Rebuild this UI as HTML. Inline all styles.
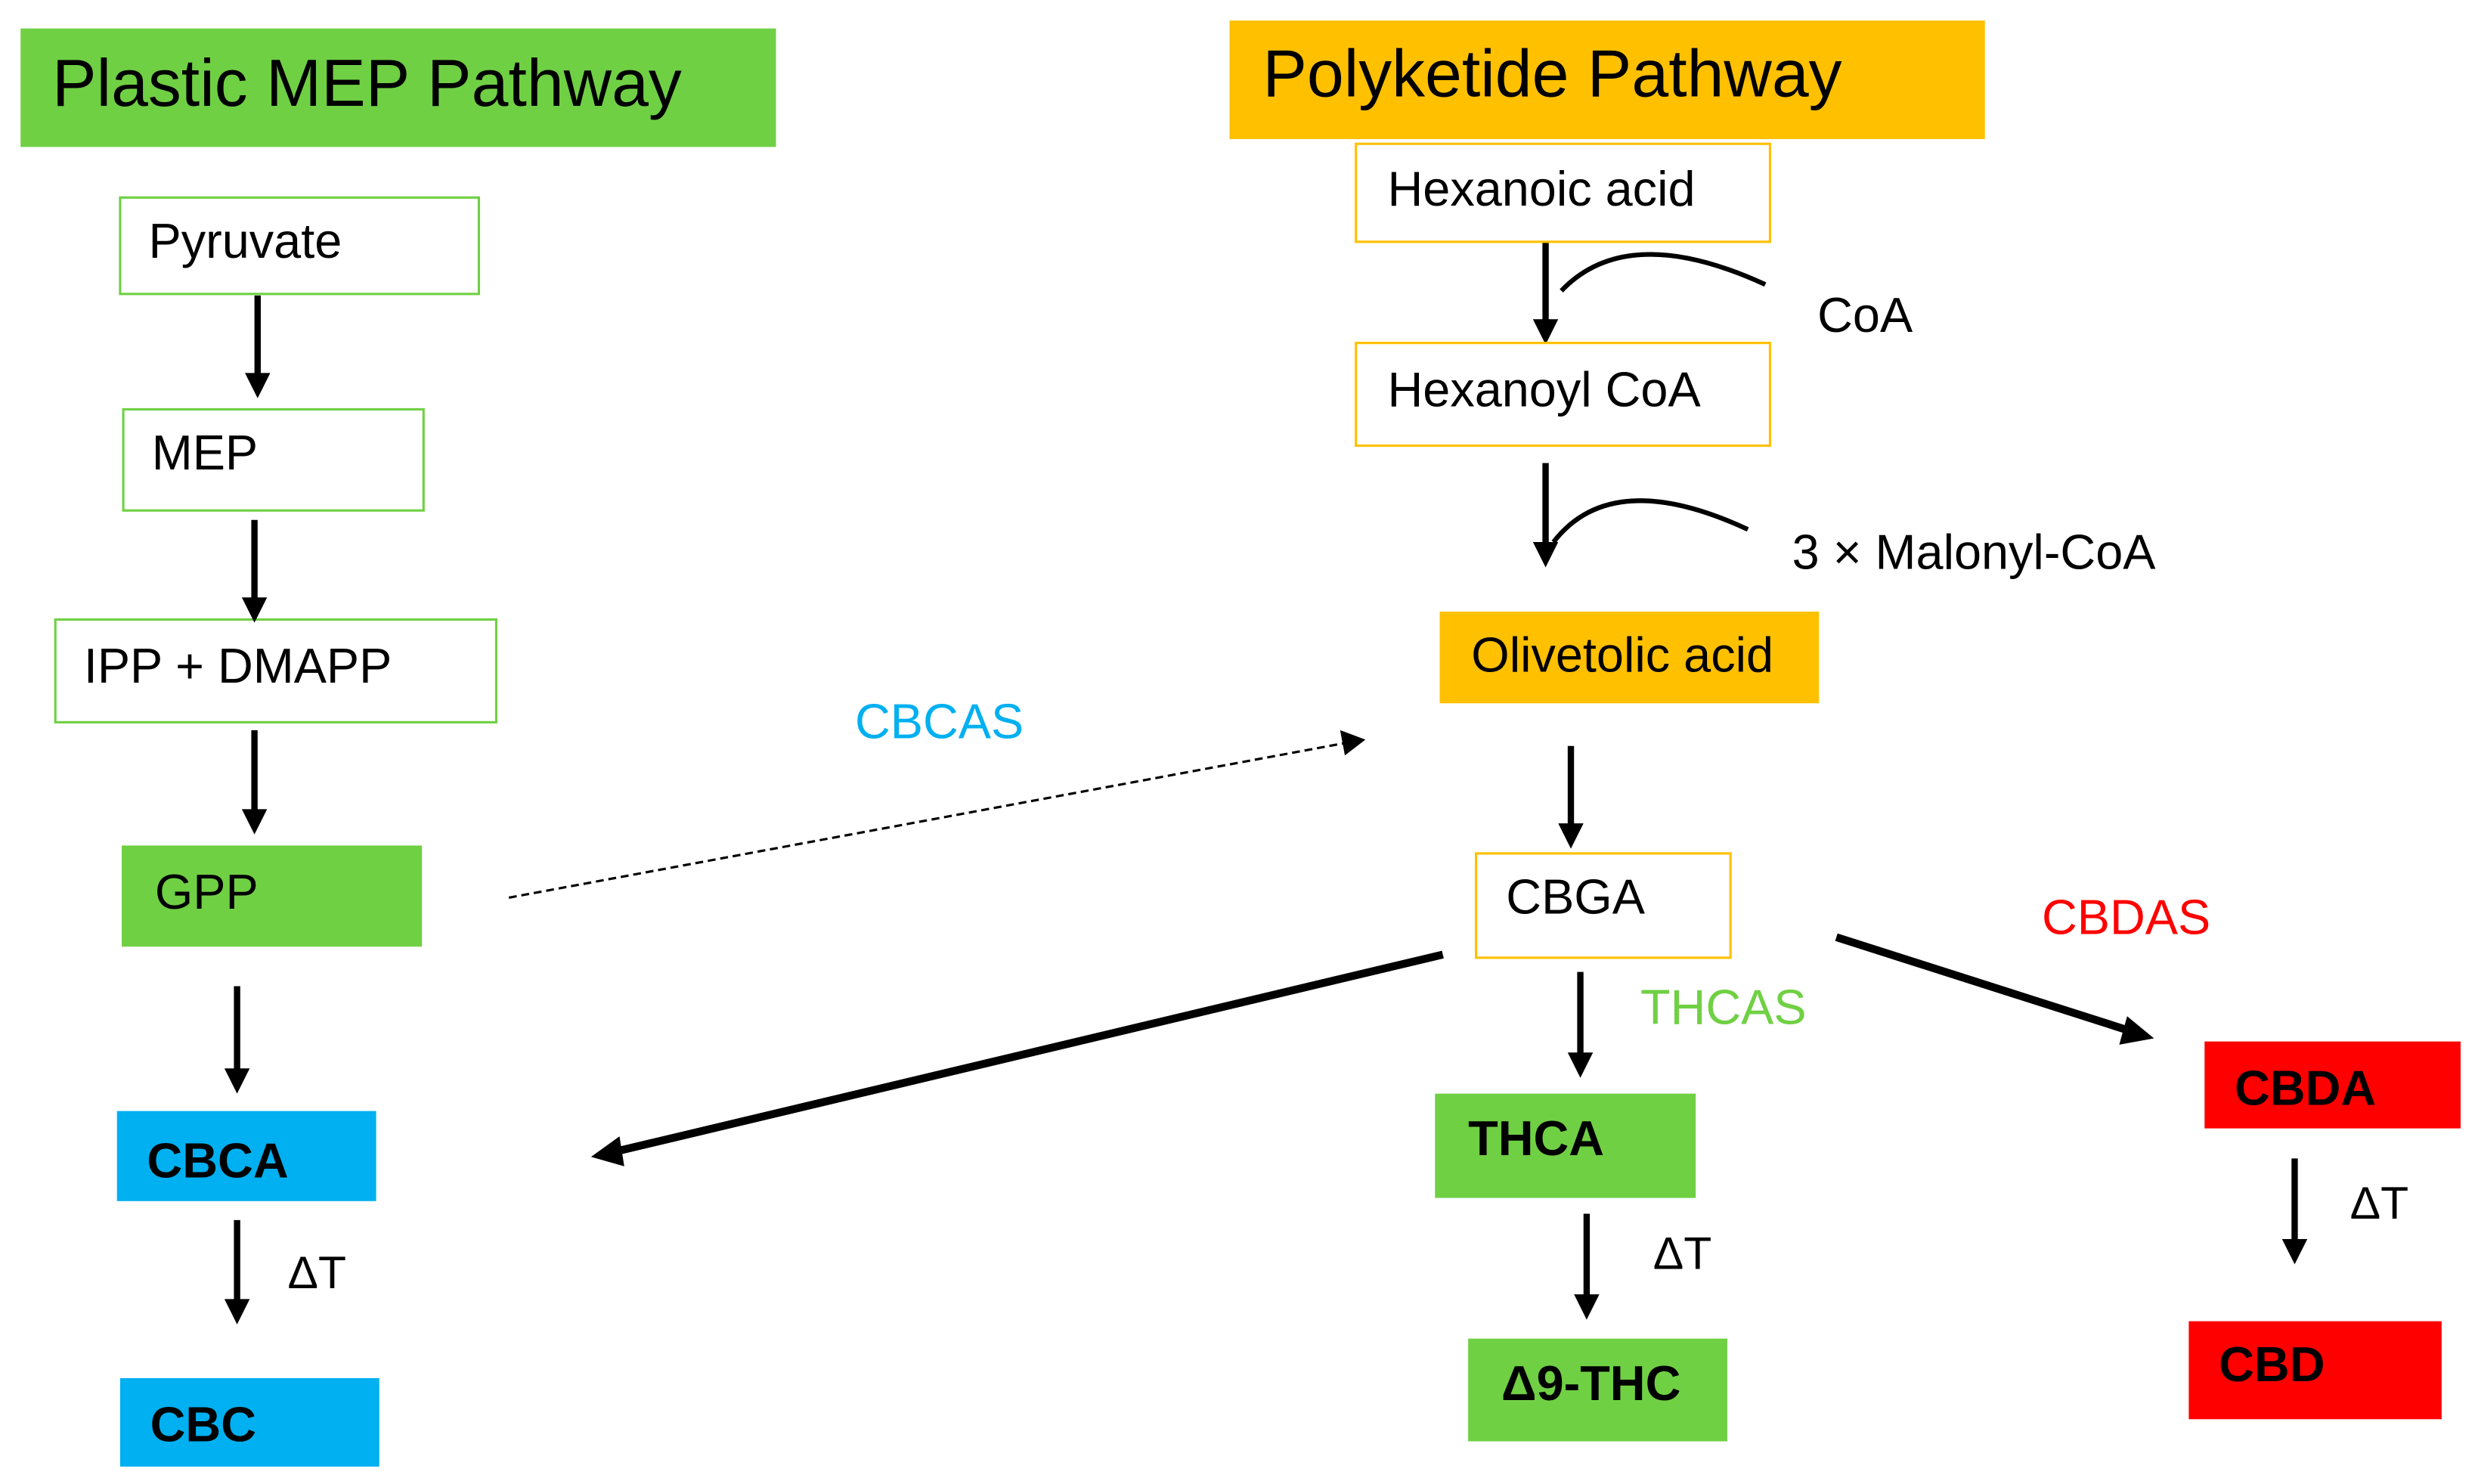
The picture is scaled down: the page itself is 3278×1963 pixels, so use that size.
<!DOCTYPE html>
<html><head><meta charset="utf-8"><style>html,body{margin:0;padding:0;background:#fff}svg{display:block}text{font-family:"Liberation Sans",Arial,sans-serif}</style></head>
<body>
<svg width="3278" height="1963" viewBox="0 0 1568 939" xmlns="http://www.w3.org/2000/svg">
<rect width="1568" height="939" fill="#fff"/>
<rect x="13" y="18" width="478" height="75" fill="#70d044"/>
<text x="33" y="67" font-size="42">Plastic MEP Pathway</text>
<rect x="778" y="13" width="478" height="75" fill="#ffc000"/>
<text x="799" y="61" font-size="42">Polyketide Pathway</text>

<g fill="#fff" stroke="#70d044" stroke-width="1.5">
<rect x="76" y="125" width="227" height="61"/>
<rect x="78" y="259" width="190" height="64"/>
<rect x="35" y="392" width="279" height="65"/>
</g>
<g font-size="31">
<text x="94" y="163">Pyruvate</text>
<text x="96" y="297">MEP</text>
<text x="53" y="432">IPP + DMAPP</text>
</g>
<rect x="77" y="535" width="190" height="64" fill="#70d044"/>
<text x="98" y="575" font-size="31">GPP</text>
<rect x="74" y="703" width="164" height="57" fill="#00b0f0"/>
<text x="93" y="745" font-size="31" font-weight="bold">CBCA</text>
<rect x="76" y="872" width="164" height="56" fill="#00b0f0"/>
<text x="95" y="912" font-size="31" font-weight="bold">CBC</text>
<text x="182" y="815" font-size="29">ΔT</text>

<g stroke="#000" stroke-width="4" fill="none">
<path d="M163,187 V240"/><path d="M161,329 V382"/><path d="M161,462 V516"/><path d="M150,624 V680"/><path d="M150,772 V826"/>
<path d="M978,152 V206"/><path d="M978,293 V347"/><path d="M994,472 V525"/><path d="M1000,615 V670"/><path d="M1004,768 V823"/><path d="M1452,733 V788"/>
</g>
<g fill="#000">
<path d="M155,236 L171,236 L163,252z"/><path d="M153,378 L169,378 L161,394z"/><path d="M153,512 L169,512 L161,528z"/><path d="M142,676 L158,676 L150,692z"/><path d="M142,822 L158,822 L150,838z"/>
<path d="M970,202 L986,202 L978,218z"/><path d="M970,343 L986,343 L978,359z"/><path d="M986,521 L1002,521 L994,537z"/><path d="M992,666 L1008,666 L1000,682z"/><path d="M996,819 L1012,819 L1004,835z"/><path d="M1444,784 L1460,784 L1452,800z"/>
</g>
<path d="M988,184 Q1030,140 1117,180" stroke="#000" stroke-width="3" fill="none"/>
<path d="M983,343 Q1020,295 1106,335" stroke="#000" stroke-width="3" fill="none"/>

<g fill="#fff" stroke="#ffc000" stroke-width="1.5">
<rect x="858" y="91" width="262" height="62"/>
<rect x="858" y="217" width="262" height="65"/>
<rect x="934" y="540" width="161" height="66"/>
</g>
<g font-size="31">
<text x="878" y="130">Hexanoic acid</text>
<text x="878" y="257">Hexanoyl CoA</text>
<text x="1150" y="210">CoA</text>
<text x="1134" y="360">3 × Malonyl-CoA</text>
<text x="953" y="578">CBGA</text>
</g>
<rect x="911" y="387" width="240" height="58" fill="#ffc000"/>
<text x="931" y="425" font-size="31">Olivetolic acid</text>

<path d="M322,568 L852,470" stroke="#000" stroke-width="1.5" stroke-dasharray="5,3" fill="none"/>
<path d="M864,468 L848,462 L851,478z" fill="#000"/>
<text x="541" y="467" font-size="31" fill="#00b0f0">CBCAS</text>

<path d="M913,604 L388,729" stroke="#000" stroke-width="5" fill="none"/>
<path d="M374,732 L392,719 L395,738z" fill="#000"/>
<path d="M1162,593 L1350,653" stroke="#000" stroke-width="5" fill="none"/>
<path d="M1363,657 L1346,643 L1341,661z" fill="#000"/>
<text x="1038" y="648" font-size="31" fill="#70d044">THCAS</text>
<text x="1292" y="591" font-size="31" fill="#ff0000">CBDAS</text>

<rect x="908" y="692" width="165" height="66" fill="#70d044"/>
<text x="929" y="731" font-size="31" font-weight="bold">THCA</text>
<text x="1046" y="803" font-size="29">ΔT</text>
<rect x="929" y="847" width="164" height="65" fill="#70d044"/>
<text x="950" y="886" font-size="31" font-weight="bold">Δ9-THC</text>

<rect x="1395" y="659" width="162" height="55" fill="#ff0000"/>
<text x="1414" y="699" font-size="31" font-weight="bold">CBDA</text>
<text x="1487" y="771" font-size="29">ΔT</text>
<rect x="1385" y="836" width="160" height="62" fill="#ff0000"/>
<text x="1404" y="874" font-size="31" font-weight="bold">CBD</text>
</svg>
</body></html>
